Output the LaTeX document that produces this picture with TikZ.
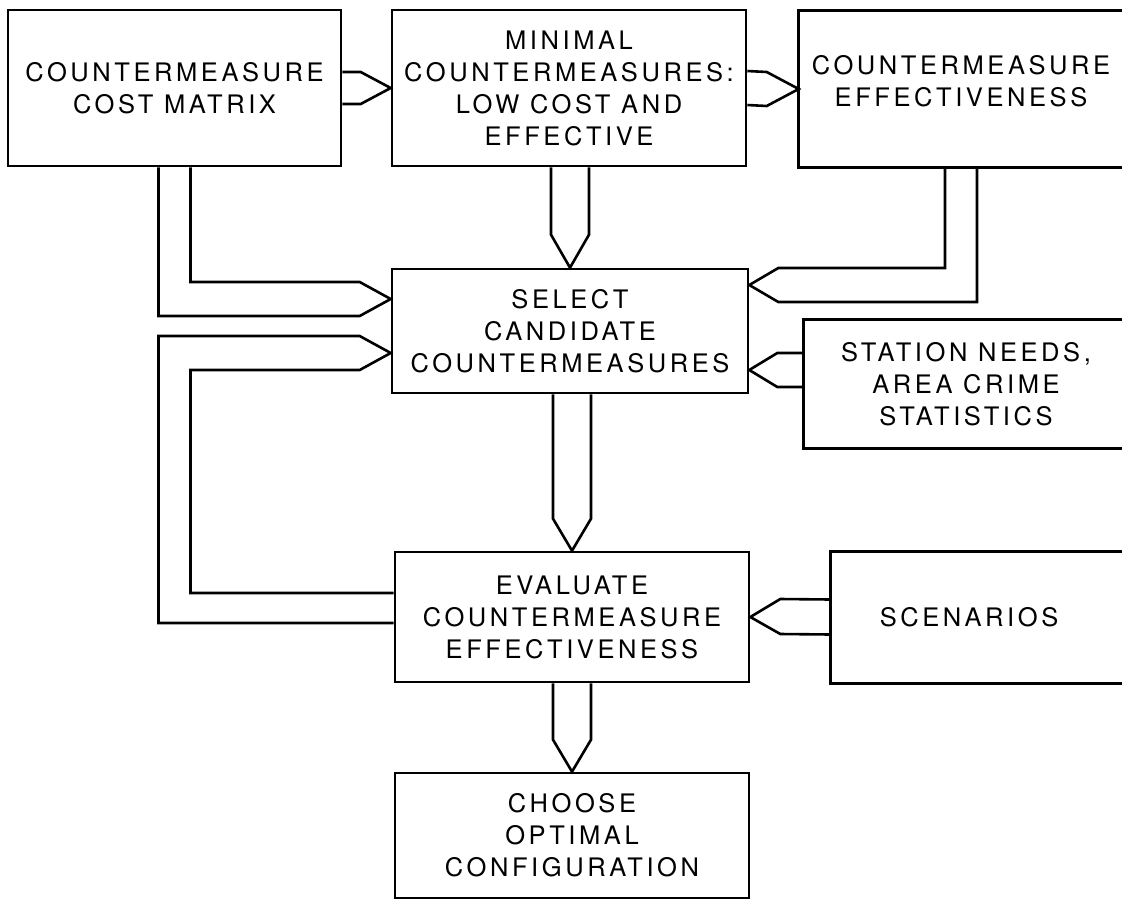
\documentclass[tikz,border=0pt]{standalone}
\usepackage{fontspec}
\setmainfont[LetterSpace=14]{TeX Gyre Heros}
\usetikzlibrary{calc}

\tikzset{
  block/.style={draw, line width=2.6pt, align=center, inner sep=0pt},
  openblock/.style={block, draw=none},
  pipe/.style={line width=2.6pt},
}

\begin{document}
\begin{tikzpicture}[x=1pt, y=-1pt, every node/.style={font=\fontsize{25.5}{32}\selectfont}]
    \useasboundingbox (0,0) rectangle (1122,903);
    \clip (0,0) rectangle (1122,903);
    % boxes
    \node[block, minimum width=333, minimum height=156] (cost) at (174.5,88) {COUNTERMEASURE\\COST MATRIX};
    \node[block, minimum width=354, minimum height=156] (minimal) at (569,88) {MINIMAL\\COUNTERMEASURES:\\LOW COST AND\\EFFECTIVE};
    \node[openblock, minimum width=322, minimum height=154, text depth=16] (effect) at (961,89) {COUNTERMEASURE\\EFFECTIVENESS};
    \node[block, minimum width=356, minimum height=124] (select) at (570,331) {SELECT\\CANDIDATE\\COUNTERMEASURES};
    \node[openblock, minimum width=322, minimum height=126] (needs) at (966,384) {STATION NEEDS,\\AREA CRIME\\STATISTICS};
    \node[block, minimum width=354, minimum height=130] (eval) at (572,617) {EVALUATE\\COUNTERMEASURE\\EFFECTIVENESS};
    \node[openblock, minimum width=274, minimum height=129] (scen) at (969,617.5) {SCENARIOS};
    \node[block, minimum width=354, minimum height=125] (choose) at (572,835.5) {CHOOSE\\OPTIMAL\\CONFIGURATION};
    % right-hand boxes run off the page
    \foreach \n in {effect,needs,scen}
        \draw[line width=2.6pt] ([xshift=100]\n.north east) -- (\n.north west) -- (\n.south west) -- ([xshift=100]\n.south east);
    % arrow tips on the select box
    \coordinate (tipA) at ($(select.west)+(0,-32)$);
    \coordinate (tipB) at ($(select.west)+(0,22)$);
    \coordinate (tipC) at ($(select.east)+(0,-46)$);
    \coordinate (tipD) at ($(select.east)+(0,39)$);
    % straight pipes
    \draw[pipe] ($(cost.east)+(0,-16)$) -- ($(minimal.west)+(-30,-16)$) -- (minimal.west) -- ($(minimal.west)+(-30,16)$) -- ($(cost.east)+(0,16)$);
    \draw[pipe] ($(minimal.east)+(0,-17)$) -- ($(effect.west)+(-32,-17)$) -- (effect.west) -- ($(effect.west)+(-32,17)$) -- ($(minimal.east)+(0,17)$);
    \draw[pipe] ($(select.north |- minimal.south)+(-19,0)$) -- ($(select.north)+(-19,-33)$) -- (select.north) -- ($(select.north)+(19,-33)$) -- ($(select.north |- minimal.south)+(19,0)$);
    \draw[pipe] ($(eval.north |- select.south)+(-19,0)$) -- ($(eval.north)+(-19,-32)$) -- (eval.north) -- ($(eval.north)+(19,-32)$) -- ($(eval.north |- select.south)+(19,0)$);
    \draw[pipe] ($(choose.north |- eval.south)+(-19,0)$) -- ($(choose.north)+(-19,-32)$) -- (choose.north) -- ($(choose.north)+(19,-32)$) -- ($(choose.north |- eval.south)+(19,0)$);
    \draw[pipe] ($(needs.west |- tipD)+(0,-17)$) -- ($(tipD)+(28,-17)$) -- (tipD) -- ($(tipD)+(28,17)$) -- ($(needs.west |- tipD)+(0,17)$);
    \draw[pipe] ($(scen.west)+(0,-18)$) -- ($(eval.east)+(30,-18)$) -- (eval.east) -- ($(eval.east)+(30,17)$) -- ($(scen.west)+(0,17)$);
    % bent pipes
    \draw[pipe] ($(effect.south)+(-16,0)$) |- ($(tipC)+(29,-17)$) -- (tipC) -- ($(tipC)+(29,17)$) -| ($(effect.south)+(16,0)$);
    \draw[pipe] ($(cost.south)+(16,0)$) |- ($(tipA)+(-31,-17)$) -- (tipA) -- ($(tipA)+(-31,17)$) -| ($(cost.south)+(-16,0)$);
    \draw[pipe] ($(eval.west)+(0,-24)$) -| ($(cost.south |- tipB)+(16,17)$) -- ($(tipB)+(-31,17)$) -- (tipB) -- ($(tipB)+(-31,-17)$) -| ($(cost.south |- eval.west)+(-16,6)$) -- ($(eval.west)+(0,6)$);
\end{tikzpicture}
\end{document}
